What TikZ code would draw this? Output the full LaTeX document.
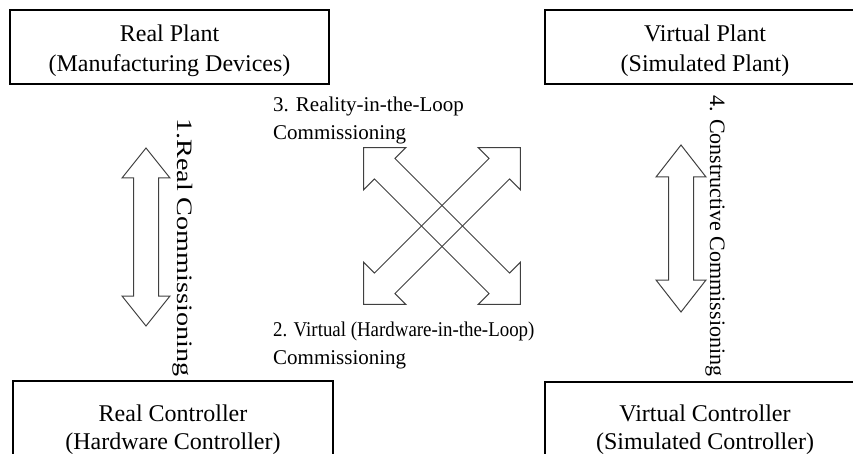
\documentclass[tikz,border=0pt]{standalone}
\usepackage{fontspec}
\setmainfont{Liberation Serif}
\begin{document}
\begin{tikzpicture}[x=1pt,y=-1pt,
  frame/.style={draw=black,line width=1.8pt},
  boxline/.style={font=\fontsize{24}{30}\selectfont,anchor=base,inner sep=0pt},
  lbl/.style={font=\fontsize{21}{28}\selectfont,anchor=base west,inner sep=0pt},
  vlbl/.style={font=\fontsize{22}{28}\selectfont,anchor=base west,inner sep=0pt,rotate=-90},
  hollow/.style={draw=black!75,line width=1pt,line join=miter}]
\useasboundingbox (0,0) rectangle (853,454);
\clip (0,0) rectangle (853,454);

% four blocks
\draw[frame] (10,10) rectangle (329,84);
\node[boxline] (rp1) at (169.5,42) {Real Plant};
\node[boxline] (rp2) at (169.5,72) {(Manufacturing Devices)};

\draw[frame] (545,10) rectangle (865,84);
\node[boxline] (vp1) at (705,42) {Virtual Plant};
\node[boxline] (vp2) at (705,72) {(Simulated Plant)};

\draw[frame] (13,381) rectangle (333,470);
\node[boxline] (rc1) at (173,421) {Real Controller};
\node[boxline] (rc2) at (173,449) {(Hardware Controller)};

\draw[frame] (545,382) rectangle (865,470);
\node[boxline] (vc1) at (705,421) {Virtual Controller};
\node[boxline] (vc2) at (705,449) {(Simulated Controller)};

% vertical double arrows
\draw[hollow] (146,148) -- (170,178) -- (158.5,178) -- (158.5,296) -- (170,296)
  -- (146,326) -- (122,296) -- (133.5,296) -- (133.5,178) -- (122,178) -- cycle;
\draw[hollow] (681,145) -- (706,177) -- (693.5,177) -- (693.5,280) -- (706,280)
  -- (681,312) -- (656,280) -- (668.5,280) -- (668.5,177) -- (656,177) -- cycle;

% crossed diagonal double arrows
\foreach \ang in {45,-45}{
  \begin{scope}[shift={(442,226)},rotate=\ang]
    \draw[hollow] (-111,0) -- (-81,-30) -- (-81,-14.5) -- (81,-14.5) -- (81,-30)
      -- (111,0) -- (81,30) -- (81,14.5) -- (-81,14.5) -- (-81,30) -- cycle;
  \end{scope}
}

% labels
\node[vlbl] (l1) at (177,118) {\scalebox{1.28}[1]{1.Real Commissioning}};
\node[lbl] (l3a) at (273,112) {3. Reality-in-the-Loop};
\node[lbl] (l3b) at (273,140) {Commissioning};
\node[lbl] (l2a) at (273,336) {\scalebox{0.9}[1]{2. Virtual (Hardware-in-the-Loop)}};
\node[lbl] (l2b) at (273,364) {Commissioning};
\node[vlbl] (l4) at (710,95) {4. Constructive Commissioning};
\end{tikzpicture}
\end{document}
